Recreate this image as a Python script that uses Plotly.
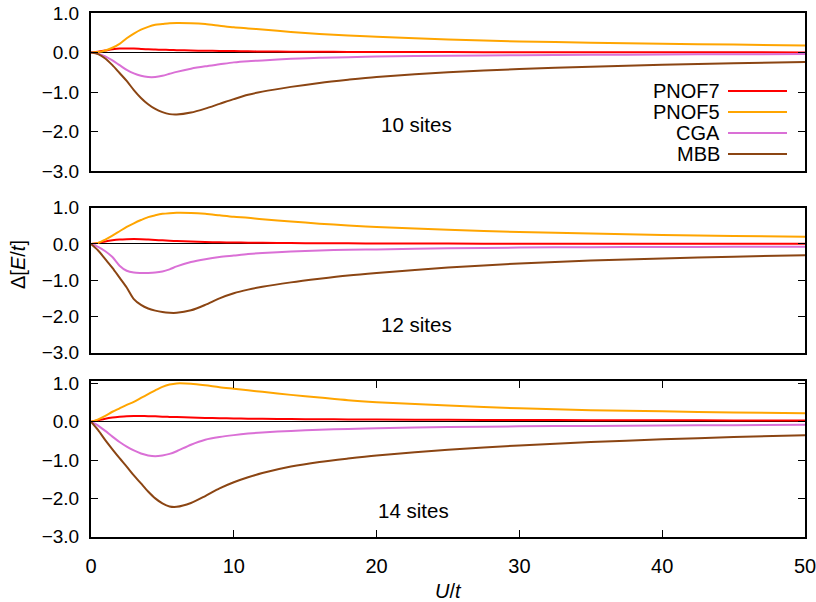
import plotly.graph_objects as go

# ---------------- data ----------------
U = [0, 0.5, 1, 1.5, 2, 2.5, 3, 3.5, 4, 4.5, 5, 5.5, 6, 7, 8, 9, 10, 11, 12,
     14, 16, 18, 20, 25, 30, 35, 40, 45, 50]

series_names = ["PNOF7", "PNOF5", "CGA", "MBB"]
series_colors = ["#ff0000", "#ffa500", "#da70d6", "#8b4513"]

# 10 sites
s10_pnof7 = [0, 0.02, 0.05, 0.08, 0.10, 0.10, 0.10, 0.09, 0.08, 0.075, 0.07, 0.065, 0.06, 0.05,
             0.045, 0.04, 0.035, 0.03, 0.027, 0.022, 0.018, 0.015, 0.013, 0.01, 0.008, 0.006,
             0.005, 0.004, 0.003]
s10_pnof5 = [0, 0.01, 0.05, 0.12, 0.22, 0.36, 0.48, 0.58, 0.65, 0.70, 0.72, 0.74, 0.745, 0.74,
             0.72, 0.68, 0.64, 0.61, 0.58, 0.52, 0.47, 0.43, 0.40, 0.33, 0.28, 0.25, 0.22, 0.20, 0.18]
s10_cga = [0, -0.03, -0.10, -0.20, -0.32, -0.44, -0.53, -0.59, -0.62, -0.62, -0.59, -0.54, -0.49,
           -0.41, -0.35, -0.30, -0.25, -0.22, -0.20, -0.16, -0.13, -0.12, -0.10, -0.08, -0.07,
           -0.06, -0.05, -0.045, -0.04]
s10_mbb = [0, -0.04, -0.15, -0.32, -0.52, -0.72, -0.95, -1.15, -1.31, -1.43, -1.51, -1.56, -1.57,
           -1.52, -1.42, -1.30, -1.18, -1.07, -0.99, -0.87, -0.77, -0.69, -0.62, -0.50, -0.42,
           -0.36, -0.31, -0.27, -0.24]

# 12 sites
s12_pnof7 = [0, 0.03, 0.07, 0.10, 0.12, 0.13, 0.135, 0.13, 0.12, 0.11, 0.10, 0.09, 0.08, 0.065,
             0.055, 0.045, 0.04, 0.035, 0.03, 0.024, 0.02, 0.016, 0.013, 0.01, 0.008, 0.006,
             0.005, 0.004, 0.003]
s12_pnof5 = [0, 0.03, 0.12, 0.23, 0.35, 0.47, 0.57, 0.66, 0.74, 0.79, 0.83, 0.85, 0.86, 0.855,
             0.83, 0.79, 0.75, 0.72, 0.68, 0.62, 0.56, 0.51, 0.47, 0.39, 0.33, 0.29, 0.25, 0.22, 0.20]
s12_cga = [0, -0.08, -0.20, -0.36, -0.60, -0.74, -0.79, -0.80, -0.80, -0.79, -0.76, -0.70, -0.62,
           -0.50, -0.42, -0.36, -0.32, -0.28, -0.25, -0.21, -0.18, -0.16, -0.15, -0.12, -0.10,
           -0.09, -0.085, -0.08, -0.08]
s12_mbb = [0, -0.18, -0.42, -0.66, -0.93, -1.20, -1.52, -1.68, -1.78, -1.84, -1.88, -1.90, -1.90,
           -1.83, -1.68, -1.50, -1.36, -1.26, -1.18, -1.06, -0.96, -0.87, -0.80, -0.65, -0.54,
           -0.46, -0.40, -0.35, -0.31]

# 14 sites
s14_pnof7 = [0, 0.04, 0.08, 0.11, 0.13, 0.145, 0.15, 0.15, 0.145, 0.14, 0.13, 0.125, 0.12, 0.11,
             0.10, 0.09, 0.085, 0.08, 0.075, 0.07, 0.065, 0.06, 0.055, 0.05, 0.045, 0.04, 0.037,
             0.034, 0.03]
s14_pnof5 = [0, 0.06, 0.15, 0.26, 0.35, 0.44, 0.52, 0.62, 0.72, 0.82, 0.91, 0.97, 1.00, 0.99,
             0.95, 0.90, 0.86, 0.82, 0.78, 0.70, 0.63, 0.56, 0.51, 0.42, 0.35, 0.30, 0.27, 0.24, 0.22]
s14_cga = [0, -0.10, -0.24, -0.39, -0.53, -0.65, -0.75, -0.83, -0.88, -0.90, -0.88, -0.84, -0.77,
           -0.60, -0.47, -0.40, -0.35, -0.31, -0.28, -0.24, -0.21, -0.19, -0.17, -0.14, -0.12,
           -0.11, -0.10, -0.09, -0.08]
s14_mbb = [0, -0.22, -0.48, -0.72, -0.95, -1.17, -1.40, -1.61, -1.82, -2.00, -2.13, -2.21, -2.22,
           -2.12, -1.94, -1.74, -1.58, -1.45, -1.34, -1.17, -1.05, -0.96, -0.88, -0.73, -0.62,
           -0.53, -0.46, -0.40, -0.35]

panel_labels = ["10 sites", "12 sites", "14 sites"]
panels = [
    [s10_pnof7, s10_pnof5, s10_cga, s10_mbb],
    [s12_pnof7, s12_pnof5, s12_cga, s12_mbb],
    [s14_pnof7, s14_pnof5, s14_cga, s14_mbb],
]

y_tickvals = [-3, -2, -1, 0, 1]
y_ticktext = ["\u22123.0", "\u22122.0", "\u22121.0", "0.0", "1.0"]
x_tickvals = [0, 10, 20, 30, 40, 50]
x_ticktext = ["0", "10", "20", "30", "40", "50"]

# ---------------- layout geometry ----------------
W, H = 816, 602
FONT = "Liberation Sans, Arial, Helvetica, sans-serif"

def py(px):
    return 1 - px / H

x_dom = [91 / W, 805 / W]
y_doms = [[py(171), py(13)], [py(352.7), py(207.7)], [py(536.7), py(380.7)]]
y_ranges = [[-3, 1], [-3, 1], [-3, 1.07]]
label_pos = [(416, 124), (416, 324), (413, 510)]

fig = go.Figure()

for i, series in enumerate(panels):
    xa = "x" if i == 0 else f"x{i+1}"
    ya = "y" if i == 0 else f"y{i+1}"
    for name, color, vals in zip(series_names, series_colors, series):
        fig.add_trace(go.Scatter(
            x=U, y=vals, mode="lines", name=name,
            line=dict(color=color, width=2, shape="spline", smoothing=0.8),
            xaxis=xa, yaxis=ya, showlegend=False))

    last = (i == 2)
    xkey = "xaxis" if i == 0 else f"xaxis{i+1}"
    ykey = "yaxis" if i == 0 else f"yaxis{i+1}"
    fig.update_layout(**{
        xkey: dict(
            domain=x_dom, range=[0, 50], anchor=ya, automargin=False,
            showline=True, linecolor="black", linewidth=2,
            mirror="ticks" if last else True,
            ticks="inside" if last else "", ticklen=7, tickwidth=1, tickcolor="black",
            tickvals=x_tickvals, ticktext=x_ticktext,
            showticklabels=last, showgrid=False, zeroline=False,
            tickfont=dict(family=FONT, size=20, color="black"),
            ticklabelstandoff=10, ticklabeloverflow="allow",
        ),
        ykey: dict(
            domain=y_doms[i], range=y_ranges[i], anchor=xa, automargin=False,
            showline=True, linecolor="black", linewidth=2, mirror="ticks",
            ticks="inside", ticklen=7, tickwidth=1, tickcolor="black",
            tickvals=y_tickvals, ticktext=y_ticktext,
            showgrid=False, zeroline=True, zerolinecolor="black", zerolinewidth=1,
            tickfont=dict(family=FONT, size=19, color="black"),
            ticklabelstandoff=6, ticklabeloverflow="allow",
        ),
    })
    lx, ly = label_pos[i]
    fig.add_annotation(text=panel_labels[i], x=lx / W, y=py(ly), xref="paper", yref="paper",
                       showarrow=False, font=dict(family=FONT, size=20.5, color="black"),
                       xanchor="center", yanchor="middle")

# legend (gnuplot style: text right-aligned, key line to the right)
leg_rows = [91, 112, 133, 154]
for name, color, ry in zip(series_names, series_colors, leg_rows):
    fig.add_annotation(text=name, x=722 / W, y=py(ry), xref="paper", yref="paper",
                       showarrow=False, xanchor="right", yanchor="middle",
                       font=dict(family=FONT, size=20, color="black"))
    fig.add_shape(type="line", xref="paper", yref="paper",
                  x0=728 / W, x1=787 / W, y0=py(ry), y1=py(ry),
                  line=dict(color=color, width=2))

# axis titles
fig.add_annotation(text="\u0394[<i>E</i>/<i>t</i>]", x=18 / W, y=py(265), xref="paper", yref="paper",
                   showarrow=False, textangle=-90, xanchor="center", yanchor="middle",
                   font=dict(family=FONT, size=20, color="black"))
fig.add_annotation(text="<i>U</i>/<i>t</i>", x=448 / W, y=py(591), xref="paper", yref="paper",
                   showarrow=False, xanchor="center", yanchor="middle",
                   font=dict(family=FONT, size=20, color="black"))

fig.update_layout(width=W, height=H, autosize=False,
                  margin=dict(l=0, r=0, t=0, b=0, autoexpand=False),
                  paper_bgcolor="white", plot_bgcolor="white",
                  showlegend=False)

fig.write_html("out.html")
